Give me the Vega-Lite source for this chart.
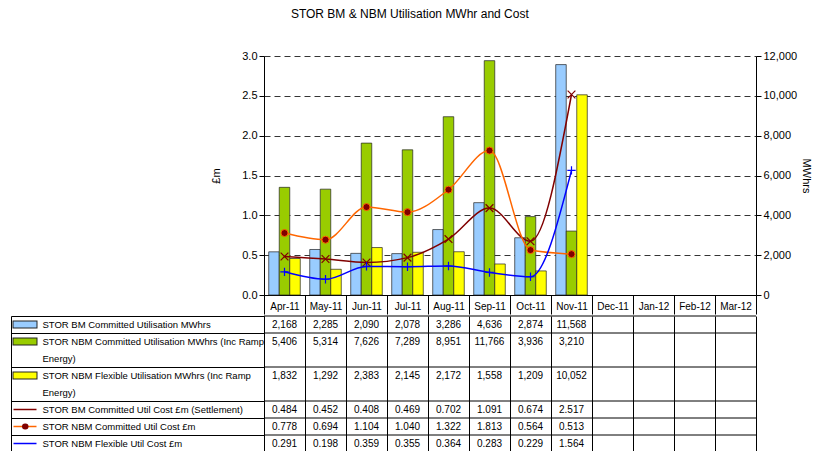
{
  "$schema": "https://vega.github.io/schema/vega-lite/v6.json",
  "padding": {"left": 8, "top": 8, "right": 0, "bottom": 0},
  "title": {"text": "STOR BM & NBM Utilisation MWhr and Cost", "fontSize": 12, "fontWeight": "normal", "font": "Liberation Sans", "anchor": "middle", "offset": 29, "color": "black"},
  "spacing": 0,
  "config": {
    "view": {"stroke": null},
    "font": "Liberation Sans",
    "axis": {"labelFont": "Liberation Sans", "titleFont": "Liberation Sans", "labelColor": "black", "titleColor": "black", "domainColor": "black", "tickColor": "black", "titleFontWeight": "normal"}
  },
  "datasets": {
    "d": [
      {"month": "Apr-11", "series": "STOR BM  Committed Utilisation MWhrs", "value": 2168},
      {"month": "Apr-11", "series": "STOR NBM Committed Utilisation MWhrs (Inc Ramp Energy)", "value": 5406},
      {"month": "Apr-11", "series": "STOR NBM Flexible Utilisation MWhrs (Inc Ramp Energy)", "value": 1832},
      {"month": "Apr-11", "series": "STOR BM  Committed Util Cost £m (Settlement)", "value": 0.484},
      {"month": "Apr-11", "series": "STOR NBM Committed Util Cost £m", "value": 0.778},
      {"month": "Apr-11", "series": "STOR NBM Flexible Util Cost £m", "value": 0.291},
      {"month": "May-11", "series": "STOR BM  Committed Utilisation MWhrs", "value": 2285},
      {"month": "May-11", "series": "STOR NBM Committed Utilisation MWhrs (Inc Ramp Energy)", "value": 5314},
      {"month": "May-11", "series": "STOR NBM Flexible Utilisation MWhrs (Inc Ramp Energy)", "value": 1292},
      {"month": "May-11", "series": "STOR BM  Committed Util Cost £m (Settlement)", "value": 0.452},
      {"month": "May-11", "series": "STOR NBM Committed Util Cost £m", "value": 0.694},
      {"month": "May-11", "series": "STOR NBM Flexible Util Cost £m", "value": 0.198},
      {"month": "Jun-11", "series": "STOR BM  Committed Utilisation MWhrs", "value": 2090},
      {"month": "Jun-11", "series": "STOR NBM Committed Utilisation MWhrs (Inc Ramp Energy)", "value": 7626},
      {"month": "Jun-11", "series": "STOR NBM Flexible Utilisation MWhrs (Inc Ramp Energy)", "value": 2383},
      {"month": "Jun-11", "series": "STOR BM  Committed Util Cost £m (Settlement)", "value": 0.408},
      {"month": "Jun-11", "series": "STOR NBM Committed Util Cost £m", "value": 1.104},
      {"month": "Jun-11", "series": "STOR NBM Flexible Util Cost £m", "value": 0.359},
      {"month": "Jul-11", "series": "STOR BM  Committed Utilisation MWhrs", "value": 2078},
      {"month": "Jul-11", "series": "STOR NBM Committed Utilisation MWhrs (Inc Ramp Energy)", "value": 7289},
      {"month": "Jul-11", "series": "STOR NBM Flexible Utilisation MWhrs (Inc Ramp Energy)", "value": 2145},
      {"month": "Jul-11", "series": "STOR BM  Committed Util Cost £m (Settlement)", "value": 0.469},
      {"month": "Jul-11", "series": "STOR NBM Committed Util Cost £m", "value": 1.040},
      {"month": "Jul-11", "series": "STOR NBM Flexible Util Cost £m", "value": 0.355},
      {"month": "Aug-11", "series": "STOR BM  Committed Utilisation MWhrs", "value": 3286},
      {"month": "Aug-11", "series": "STOR NBM Committed Utilisation MWhrs (Inc Ramp Energy)", "value": 8951},
      {"month": "Aug-11", "series": "STOR NBM Flexible Utilisation MWhrs (Inc Ramp Energy)", "value": 2172},
      {"month": "Aug-11", "series": "STOR BM  Committed Util Cost £m (Settlement)", "value": 0.702},
      {"month": "Aug-11", "series": "STOR NBM Committed Util Cost £m", "value": 1.322},
      {"month": "Aug-11", "series": "STOR NBM Flexible Util Cost £m", "value": 0.364},
      {"month": "Sep-11", "series": "STOR BM  Committed Utilisation MWhrs", "value": 4636},
      {"month": "Sep-11", "series": "STOR NBM Committed Utilisation MWhrs (Inc Ramp Energy)", "value": 11766},
      {"month": "Sep-11", "series": "STOR NBM Flexible Utilisation MWhrs (Inc Ramp Energy)", "value": 1558},
      {"month": "Sep-11", "series": "STOR BM  Committed Util Cost £m (Settlement)", "value": 1.091},
      {"month": "Sep-11", "series": "STOR NBM Committed Util Cost £m", "value": 1.813},
      {"month": "Sep-11", "series": "STOR NBM Flexible Util Cost £m", "value": 0.283},
      {"month": "Oct-11", "series": "STOR BM  Committed Utilisation MWhrs", "value": 2874},
      {"month": "Oct-11", "series": "STOR NBM Committed Utilisation MWhrs (Inc Ramp Energy)", "value": 3936},
      {"month": "Oct-11", "series": "STOR NBM Flexible Utilisation MWhrs (Inc Ramp Energy)", "value": 1209},
      {"month": "Oct-11", "series": "STOR BM  Committed Util Cost £m (Settlement)", "value": 0.674},
      {"month": "Oct-11", "series": "STOR NBM Committed Util Cost £m", "value": 0.564},
      {"month": "Oct-11", "series": "STOR NBM Flexible Util Cost £m", "value": 0.229},
      {"month": "Nov-11", "series": "STOR BM  Committed Utilisation MWhrs", "value": 11568},
      {"month": "Nov-11", "series": "STOR NBM Committed Utilisation MWhrs (Inc Ramp Energy)", "value": 3210},
      {"month": "Nov-11", "series": "STOR NBM Flexible Utilisation MWhrs (Inc Ramp Energy)", "value": 10052},
      {"month": "Nov-11", "series": "STOR BM  Committed Util Cost £m (Settlement)", "value": 2.517},
      {"month": "Nov-11", "series": "STOR NBM Committed Util Cost £m", "value": 0.513},
      {"month": "Nov-11", "series": "STOR NBM Flexible Util Cost £m", "value": 1.564}
    ]
  },
  "data": {"name": "d"},
  "vconcat": [
    {
      "width": 492,
      "height": 239,
      "encoding": {
        "x": {
          "field": "month", "type": "nominal",
          "scale": {"domain": ["Apr-11","May-11","Jun-11","Jul-11","Aug-11","Sep-11","Oct-11","Nov-11","Dec-11","Jan-12","Feb-12","Mar-12"], "paddingInner": 0, "paddingOuter": 0},
          "axis": {"title": null, "tickBand": "extent", "tickSize": 19, "labelPadding": -13, "labelAngle": 0, "labelFontSize": 10, "grid": false, "domainColor": "black", "tickColor": "black"}
        }
      },
      "layer": [
        {
          "transform": [{"filter": {"field": "series", "oneOf": ["STOR BM  Committed Utilisation MWhrs", "STOR NBM Committed Utilisation MWhrs (Inc Ramp Energy)", "STOR NBM Flexible Utilisation MWhrs (Inc Ramp Energy)"]}}],
          "mark": {"type": "bar", "stroke": "#222222", "strokeWidth": 0.7},
          "encoding": {
            "xOffset": {"field": "series", "type": "nominal", "scale": {"domain": ["STOR BM  Committed Utilisation MWhrs", "STOR NBM Committed Utilisation MWhrs (Inc Ramp Energy)", "STOR NBM Flexible Utilisation MWhrs (Inc Ramp Energy)"], "paddingInner": 0, "paddingOuter": 0.45}},
            "y": {
              "field": "value", "type": "quantitative",
              "scale": {"domain": [0, 12000], "nice": false},
              "axis": {"orient": "right", "values": [0, 2000, 4000, 6000, 8000, 10000, 12000], "format": ",d", "title": "MWhrs", "grid": false, "tickSize": 5, "labelFontSize": 11, "titleFontSize": 11, "titlePadding": 4}
            },
            "fill": {"field": "series", "type": "nominal", "scale": {"domain": ["STOR BM  Committed Utilisation MWhrs", "STOR NBM Committed Utilisation MWhrs (Inc Ramp Energy)", "STOR NBM Flexible Utilisation MWhrs (Inc Ramp Energy)"], "range": ["#99CCFF", "#99CC00", "#FFFF00"]}, "legend": null}
          }
        },
        {
          "encoding": {
            "y": {
              "field": "value", "type": "quantitative",
              "scale": {"domain": [0, 3], "nice": false},
              "axis": {"orient": "left", "values": [0, 0.5, 1, 1.5, 2, 2.5, 3], "format": ".1f", "title": "£m", "grid": true, "gridColor": "black", "gridDash": [6, 4], "gridWidth": 0.8, "tickSize": 5, "labelFontSize": 11, "titleFontSize": 11, "titlePadding": 20}
            }
          },
          "layer": [
            {"transform": [{"filter": {"field": "series", "equal": "STOR BM  Committed Util Cost £m (Settlement)"}}], "mark": {"type": "line", "color": "#800000", "strokeWidth": 1.5, "interpolate": "monotone"}},
            {"transform": [{"filter": {"field": "series", "equal": "STOR NBM Committed Util Cost £m"}}], "mark": {"type": "line", "color": "#FF6600", "strokeWidth": 1.5, "interpolate": "monotone"}},
            {"transform": [{"filter": {"field": "series", "equal": "STOR NBM Flexible Util Cost £m"}}], "mark": {"type": "line", "color": "#0000FF", "strokeWidth": 1.5, "interpolate": "monotone"}},
            {"transform": [{"filter": {"field": "series", "equal": "STOR BM  Committed Util Cost £m (Settlement)"}}], "mark": {"type": "point", "shape": "M-1,-1L1,1M-1,1L1,-1", "filled": false, "stroke": "#800000", "strokeWidth": 1.2, "size": 60, "opacity": 1}},
            {"transform": [{"filter": {"field": "series", "equal": "STOR NBM Committed Util Cost £m"}}], "mark": {"type": "point", "shape": "circle", "filled": true, "fill": "#800000", "stroke": "#FF6600", "strokeWidth": 1, "size": 50, "opacity": 1}},
            {"transform": [{"filter": {"field": "series", "equal": "STOR NBM Flexible Util Cost £m"}}], "mark": {"type": "point", "shape": "M-1,0L1,0M0,-1L0,1", "filled": false, "stroke": "#0000FF", "strokeWidth": 1.2, "size": 70, "opacity": 1}}
          ]
        }
      ],
      "resolve": {"scale": {"y": "independent"}}
    },
    {
      "width": 492,
      "height": 136,
      "layer": [
        {
          "transform": [{"filter": {"field": "month", "equal": "Apr-11"}}],
          "mark": {"type": "rule", "color": "black", "strokeWidth": 1},
          "encoding": {
            "y": {"field": "series", "type": "nominal", "bandPosition": 0, "axis": null,
              "scale": {"domain": ["STOR BM  Committed Utilisation MWhrs", "STOR NBM Committed Utilisation MWhrs (Inc Ramp Energy)", "STOR NBM Committed Utilisation MWhrs (Inc Ramp Energy) cont", "STOR NBM Flexible Utilisation MWhrs (Inc Ramp Energy)", "STOR NBM Flexible Utilisation MWhrs (Inc Ramp Energy) cont", "STOR BM  Committed Util Cost £m (Settlement)", "STOR NBM Committed Util Cost £m", "STOR NBM Flexible Util Cost £m"], "paddingInner": 0, "paddingOuter": 0}}
          }
        },
        {
          "transform": [{"filter": {"field": "series", "equal": "STOR BM  Committed Utilisation MWhrs"}}],
          "mark": {"type": "text", "fontSize": 10, "font": "Liberation Sans", "color": "black"},
          "encoding": {
            "x": {"field": "month", "type": "nominal", "scale": {"domain": ["Apr-11","May-11","Jun-11","Jul-11","Aug-11","Sep-11","Oct-11","Nov-11","Dec-11","Jan-12","Feb-12","Mar-12"], "paddingInner": 0, "paddingOuter": 0}, "axis": {"title": null, "labels": false, "ticks": false, "domain": true, "domainColor": "black", "grid": true, "tickBand": "extent", "gridColor": "black", "gridOpacity": 1, "gridWidth": 1}},
            "y": {
              "field": "series", "type": "nominal",
              "axis": {
                "title": null, "orient": "left", "tickSize": 253, "tickColor": "black", "tickOffset": -8.5, "labelOffset": 8.5,
                "tickOpacity": {"condition": {"test": "datum.value == 'STOR NBM Committed Utilisation MWhrs (Inc Ramp Energy) cont' || datum.value == 'STOR NBM Flexible Utilisation MWhrs (Inc Ramp Energy) cont'", "value": 0}, "value": 1},
                "labelAlign": "left", "labelPadding": -31, "labelLimit": 300, "labelFontSize": 9.5,
                "labelExpr": "datum.value == 'STOR NBM Committed Utilisation MWhrs (Inc Ramp Energy)' ? 'STOR NBM Committed Utilisation MWhrs (Inc Ramp' : datum.value == 'STOR NBM Flexible Utilisation MWhrs (Inc Ramp Energy)' ? 'STOR NBM Flexible Utilisation MWhrs (Inc Ramp' : (datum.value == 'STOR NBM Committed Utilisation MWhrs (Inc Ramp Energy) cont' || datum.value == 'STOR NBM Flexible Utilisation MWhrs (Inc Ramp Energy) cont') ? 'Energy)' : datum.value",
                "domain": true, "domainColor": "black", "grid": false
              }
            },
            "text": {"field": "value", "type": "quantitative", "format": ",d"}
          }
        },
        {
          "transform": [{"filter": {"field": "series", "equal": "STOR NBM Committed Utilisation MWhrs (Inc Ramp Energy)"}}],
          "mark": {"type": "text", "fontSize": 10, "font": "Liberation Sans", "color": "black"},
          "encoding": {
            "x": {"field": "month", "type": "nominal", "axis": {"title": null, "labels": false, "ticks": false, "domain": true, "domainColor": "black", "grid": true, "tickBand": "extent", "gridColor": "black", "gridOpacity": 1, "gridWidth": 1}},
            "y": {"field": "series", "type": "nominal", "axis": {"title": null, "orient": "left", "offset": 253, "domain": true, "domainColor": "black", "ticks": false, "labels": false, "grid": false}},
            "text": {"field": "value", "type": "quantitative", "format": ",d"}
          }
        },
        {
          "transform": [{"filter": {"field": "series", "equal": "STOR NBM Flexible Utilisation MWhrs (Inc Ramp Energy)"}}],
          "mark": {"type": "text", "fontSize": 10, "font": "Liberation Sans", "color": "black"},
          "encoding": {
            "x": {"field": "month", "type": "nominal", "axis": {"title": null, "labels": false, "ticks": false, "domain": true, "domainColor": "black", "grid": true, "tickBand": "extent", "gridColor": "black", "gridOpacity": 1, "gridWidth": 1}},
            "y": {"field": "series", "type": "nominal", "axis": {"title": null, "orient": "left", "offset": 227, "domain": false, "labels": false, "grid": false, "ticks": true, "values": ["STOR BM  Committed Utilisation MWhrs", "STOR NBM Committed Utilisation MWhrs (Inc Ramp Energy)", "STOR NBM Flexible Utilisation MWhrs (Inc Ramp Energy)"], "tickSize": 25, "tickWidth": 8, "tickColor": "#222222"}},
            "text": {"field": "value", "type": "quantitative", "format": ",d"}
          }
        },
        {
          "transform": [{"filter": {"field": "series", "equal": "STOR BM  Committed Util Cost £m (Settlement)"}}],
          "mark": {"type": "text", "fontSize": 10, "font": "Liberation Sans", "color": "black"},
          "encoding": {
            "x": {"field": "month", "type": "nominal", "axis": {"title": null, "labels": false, "ticks": false, "domain": true, "domainColor": "black", "grid": true, "tickBand": "extent", "gridColor": "black", "gridOpacity": 1, "gridWidth": 1}},
            "y": {"field": "series", "type": "nominal", "axis": {
              "title": null, "orient": "left", "offset": 228, "domain": false, "labels": false, "grid": false, "ticks": true,
              "values": ["STOR BM  Committed Utilisation MWhrs", "STOR NBM Committed Utilisation MWhrs (Inc Ramp Energy)", "STOR NBM Flexible Utilisation MWhrs (Inc Ramp Energy)", "STOR BM  Committed Util Cost £m (Settlement)", "STOR NBM Committed Util Cost £m", "STOR NBM Flexible Util Cost £m"],
              "tickSize": 23,
              "tickWidth": {"condition": {"test": "datum.value == 'STOR BM  Committed Utilisation MWhrs' || datum.value == 'STOR NBM Committed Utilisation MWhrs (Inc Ramp Energy)' || datum.value == 'STOR NBM Flexible Utilisation MWhrs (Inc Ramp Energy)'", "value": 6}, "value": 1.5},
              "tickColor": {"condition": [
                {"test": "datum.value == 'STOR BM  Committed Utilisation MWhrs'", "value": "#99CCFF"},
                {"test": "datum.value == 'STOR NBM Committed Utilisation MWhrs (Inc Ramp Energy)'", "value": "#99CC00"},
                {"test": "datum.value == 'STOR NBM Flexible Utilisation MWhrs (Inc Ramp Energy)'", "value": "#FFFF00"},
                {"test": "datum.value == 'STOR BM  Committed Util Cost £m (Settlement)'", "value": "#800000"},
                {"test": "datum.value == 'STOR NBM Committed Util Cost £m'", "value": "#FF6600"}
              ], "value": "#0000FF"}
            }},
            "text": {"field": "value", "type": "quantitative", "format": ".3f"}
          }
        },
        {
          "transform": [{"filter": {"field": "series", "equal": "STOR NBM Committed Util Cost £m"}}],
          "mark": {"type": "text", "fontSize": 10, "font": "Liberation Sans", "color": "black"},
          "encoding": {
            "x": {"field": "month", "type": "nominal", "axis": {"title": null, "labels": false, "ticks": false, "domain": true, "domainColor": "black", "grid": true, "tickBand": "extent", "gridColor": "black", "gridOpacity": 1, "gridWidth": 1}},
            "y": {"field": "series", "type": "nominal", "axis": {"title": null, "orient": "left", "offset": 239, "domain": false, "labels": false, "grid": false, "ticks": true, "values": ["STOR NBM Committed Util Cost £m"], "tickSize": 0.5, "tickWidth": 6, "tickCap": "round", "tickColor": "#800000"}},
            "text": {"field": "value", "type": "quantitative", "format": ".3f"}
          }
        },
        {
          "transform": [{"filter": {"field": "series", "equal": "STOR NBM Flexible Util Cost £m"}}],
          "mark": {"type": "text", "fontSize": 10, "font": "Liberation Sans", "color": "black"},
          "encoding": {
            "x": {"field": "month", "type": "nominal", "axis": {"title": null, "labels": false, "ticks": false, "domain": true, "domainColor": "black", "grid": true, "tickBand": "extent", "gridColor": "black", "gridOpacity": 1, "gridWidth": 1}},
            "y": {"field": "series", "type": "nominal", "axis": {"title": null, "orient": "left", "domain": false, "labels": false, "grid": false, "ticks": true, "values": ["STOR NBM Flexible Util Cost £m"], "tickSize": 253, "tickOffset": 8.5, "tickColor": "black"}},
            "text": {"field": "value", "type": "quantitative", "format": ".3f"}
          }
        }
      ],
      "resolve": {"axis": {"y": "independent"}}
    }
  ]
}
